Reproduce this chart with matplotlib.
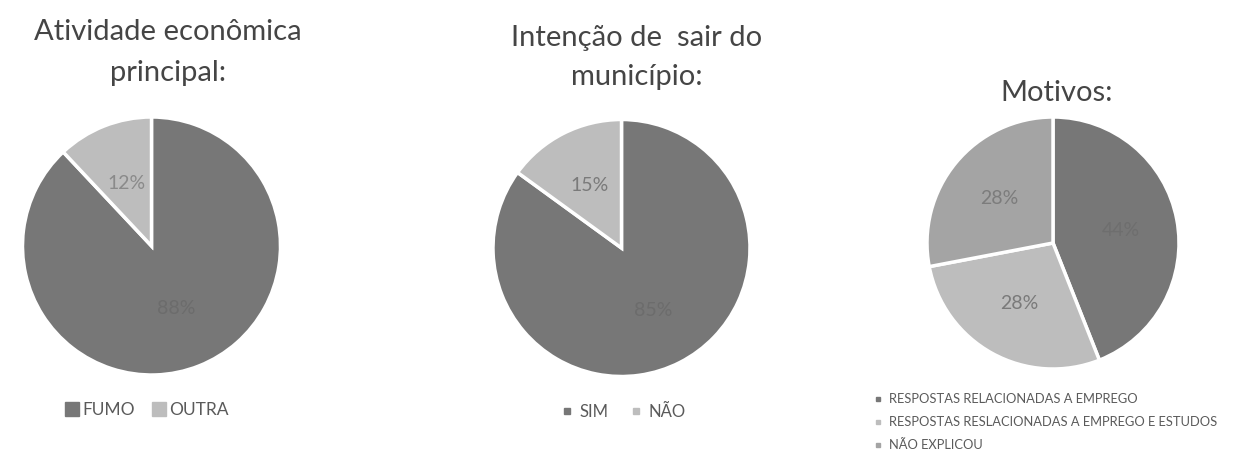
import matplotlib
matplotlib.use("Agg")
import matplotlib.pyplot as plt
from matplotlib.lines import Line2D

plt.rcParams['font.family'] = ['Lato', 'DejaVu Sans']

# chart data
atividade_labels = ["FUMO", "OUTRA"]
atividade_values = [88, 12]

intencao_labels = ["SIM", "NÃO"]
intencao_values = [85, 15]

motivos_labels = ["RESPOSTAS RELACIONADAS A EMPREGO",
                  "RESPOSTAS RESLACIONADAS A EMPREGO E ESTUDOS",
                  "NÃO EXPLICOU"]
motivos_values = [44, 28, 28]

dark = "#777777"
light = "#bdbdbd"
mid = "#a4a4a4"
text_gray = "#5a5a5a"
title_gray = "#454545"

W, H = 1234, 454
fig = plt.figure(figsize=(W / 100, H / 100), dpi=100)


def pie_axes(cx, cy, r):
    # place square axes by pixel center and radius
    return fig.add_axes([(cx - r) / W, 1 - (cy + r) / H, 2 * r / W, 2 * r / H])


def draw_pie(ax, values, colors, label_colors, pctdist):
    wedges, _, autotexts = ax.pie(values, colors=colors, startangle=90, counterclock=False,
                                  autopct='%d%%', pctdistance=pctdist,
                                  wedgeprops=dict(edgecolor='white', linewidth=2.5),
                                  textprops=dict(fontsize=14))
    for t, c in zip(autotexts, label_colors):
        t.set_color(c)
    ax.set_xlim(-1, 1)
    ax.set_ylim(-1, 1)
    ax.set_aspect('equal')
    return wedges


def title(x, y, s):
    fig.text(x / W, 1 - y / H, s, ha='center', va='center', fontsize=21,
             color=title_gray)


# pie 1
ax1 = pie_axes(151.5, 246, 129)
draw_pie(ax1, atividade_values, [dark, light], ["#6c6c6c", "#8a8a8a"], 0.52)
title(168, 32, "Atividade econômica")
title(168, 73, "principal:")
h1 = [Line2D([], [], marker='s', linestyle='', markersize=10, color=c) for c in [dark, light]]
fig.legend(h1, atividade_labels, loc='center', bbox_to_anchor=(147 / W, 1 - 410 / H),
           ncol=2, frameon=False, fontsize=12.5, labelcolor=text_gray,
           handlelength=0.8, handletextpad=0.2, columnspacing=1.0)

# pie 2
ax2 = pie_axes(621.5, 248, 128.5)
draw_pie(ax2, intencao_values, [dark, light], ["#6c6c6c", "#7a7a7a"], 0.55)
title(637, 38, "Intenção de  sair do")
title(637, 77, "município:")
h2 = [Line2D([], [], marker='s', linestyle='', markersize=4, color=c) for c in [dark, light]]
fig.legend(h2, intencao_labels, loc='center', bbox_to_anchor=(623 / W, 1 - 412 / H),
           ncol=2, frameon=False, fontsize=12, labelcolor=text_gray,
           handlelength=0.8, handletextpad=0.4, columnspacing=1.2)

# pie 3
ax3 = pie_axes(1053, 243, 126)
draw_pie(ax3, motivos_values, [dark, light, mid], ["#6e6e6e", "#7a7a7a", "#7c7c7c"], 0.55)
title(1057, 93, "Motivos:")
h3 = [Line2D([], [], marker='s', linestyle='', markersize=3.5, color=c) for c in [dark, light, mid]]
fig.legend(h3, motivos_labels, loc='upper left', bbox_to_anchor=(866 / W, 1 - 387 / H),
           ncol=1, frameon=False, fontsize=9.3, labelcolor=text_gray,
           handlelength=0.8, handletextpad=0.5, labelspacing=0.85, borderpad=0)

fig.savefig("out.png", dpi=100, facecolor='white')
